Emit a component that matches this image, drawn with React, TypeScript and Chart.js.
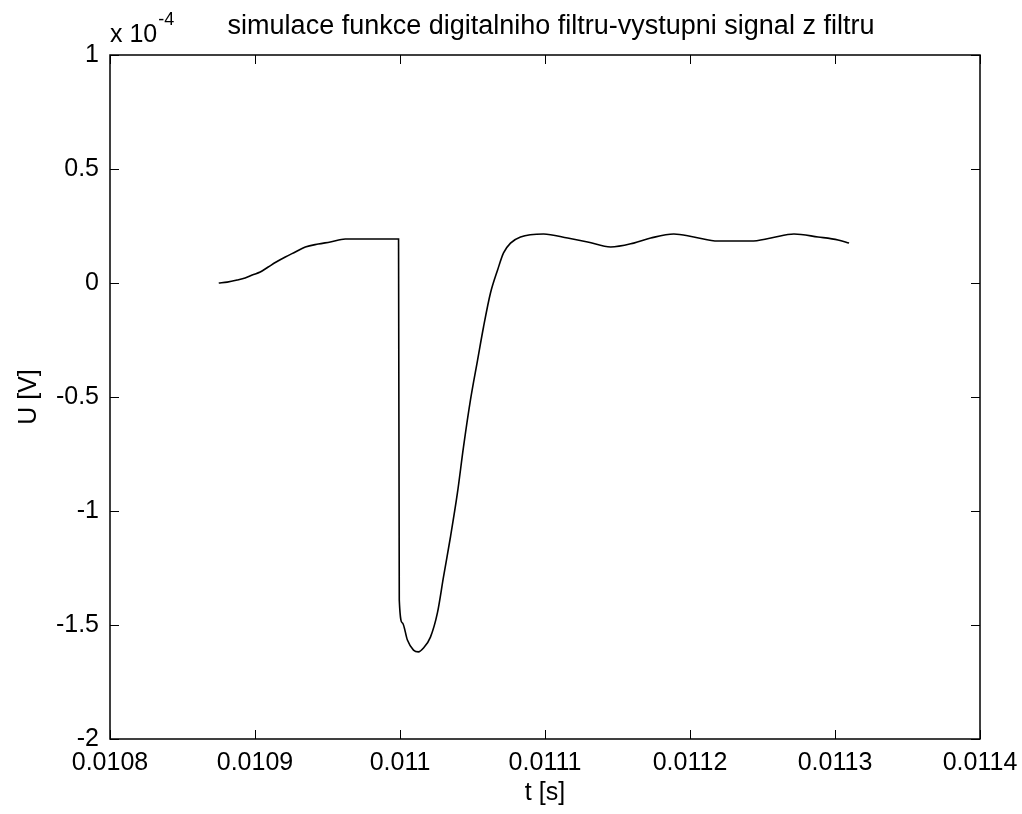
import React, { useEffect, useRef } from "react";
import { Chart, registerables } from "chart.js";

Chart.register(...registerables);

// time [s]
const T: number[] = [
  0.010875, 0.0108808, 0.0108877, 0.0108932, 0.0108981, 0.0109036, 0.0109091,
  0.0109146, 0.0109209, 0.0109278, 0.0109347, 0.0109436, 0.0109519, 0.0109623,
  0.010999, 0.0109995, 0.0110017, 0.0110051, 0.0110093, 0.0110127, 0.0110162,
  0.011021, 0.0110258, 0.01103, 0.0110348, 0.0110396, 0.0110438, 0.0110486,
  0.0110535, 0.0110576, 0.0110624, 0.0110673, 0.0110714, 0.0110762, 0.0110831,
  0.011099, 0.0111156, 0.0111294, 0.0111453, 0.0111612, 0.0111729, 0.0111888,
  0.0112026, 0.0112192, 0.011242, 0.0112558, 0.0112717, 0.0112883, 0.0113021,
  0.0113097,
];
// output voltage, in units of 1e-4 V
const U: number[] = [
  0.0, 0.004, 0.013, 0.022, 0.035, 0.048, 0.07,
  0.092, 0.114, 0.136, 0.158, 0.171, 0.18, 0.193,
  0.193, -1.39, -1.491, -1.566, -1.61, -1.618, -1.601,
  -1.553, -1.447, -1.289, -1.114, -0.921, -0.719, -0.513,
  -0.338, -0.193, -0.044, 0.057, 0.132, 0.175, 0.202,
  0.215, 0.197, 0.18, 0.158, 0.175, 0.197, 0.215,
  0.202, 0.184, 0.184, 0.197, 0.215, 0.202, 0.189,
  0.175,
];

const X_MIN = 0.0108;
const X_MAX = 0.0114;
const X_STEP = 0.0001;
const Y_MIN = -2;
const Y_MAX = 1;
const Y_STEP = 0.5;

const TITLE = "simulace funkce digitalniho filtru-vystupni signal z filtru";
const X_LABEL = "t [s]";
const Y_LABEL = "U [V]";
const EXP_BASE = "x 10";
const EXP_POWER = "-4";

const FONT = "'Liberation Sans', Arial, sans-serif";

const matlabBox = {
  id: "matlabBox",
  afterDraw(chart: any) {
    const { ctx, chartArea, scales } = chart;
    const { left, right, top, bottom } = chartArea;
    const xs = scales.x;
    const ys = scales.y;
    const tl = 9;
    ctx.save();
    ctx.strokeStyle = "#000";
    ctx.lineWidth = 1.5;
    ctx.strokeRect(left, top, right - left, bottom - top);
    ctx.lineWidth = 1;
    ctx.beginPath();
    xs.ticks.forEach((t: any) => {
      const px = Math.round(xs.getPixelForValue(t.value)) + 0.5;
      ctx.moveTo(px, bottom);
      ctx.lineTo(px, bottom - tl);
      ctx.moveTo(px, top);
      ctx.lineTo(px, top + tl);
    });
    ys.ticks.forEach((t: any) => {
      const py = Math.round(ys.getPixelForValue(t.value)) + 0.5;
      ctx.moveTo(left, py);
      ctx.lineTo(left + tl, py);
      ctx.moveTo(right, py);
      ctx.lineTo(right - tl, py);
    });
    ctx.stroke();

    ctx.fillStyle = "#000";
    ctx.font = `27px ${FONT}`;
    ctx.textAlign = "center";
    ctx.textBaseline = "alphabetic";
    ctx.fillText(TITLE, (left + right) / 2 + 6, top - 21);

    ctx.textAlign = "left";
    ctx.font = `25px ${FONT}`;
    ctx.fillText(EXP_BASE, left, top - 13);
    const w = ctx.measureText(EXP_BASE).width;
    ctx.font = `18px ${FONT}`;
    ctx.fillText(EXP_POWER, left + w + 1, top - 30);
    ctx.restore();
  },
};

export default function App() {
  const ref = useRef<HTMLCanvasElement | null>(null);
  useEffect(() => {
    document.body.style.margin = "0";
    const canvas = ref.current;
    if (!canvas) return;
    const chart = new Chart(canvas, {
      type: "line",
      data: {
        datasets: [
          {
            data: T.map((t, i) => ({ x: t, y: U[i] })),
            borderColor: "#000",
            borderWidth: 1.6,
            pointRadius: 0,
            cubicInterpolationMode: "monotone",
            fill: false,
          },
        ],
      },
      options: {
        animation: false,
        responsive: false,
        devicePixelRatio: 1,
        layout: { padding: { top: 55, right: 42, left: 0, bottom: 0 } },
        plugins: {
          legend: { display: false },
          title: { display: false },
          tooltip: { enabled: false },
        },
        scales: {
          x: {
            type: "linear",
            min: X_MIN,
            max: X_MAX,
            afterFit: (s: any) => {
              s.height = 75;
              s.paddingLeft = 0;
              s.paddingRight = 0;
            },
            grid: { display: false, drawTicks: false },
            border: { display: false },
            ticks: {
              stepSize: X_STEP,
              autoSkip: false,
              maxRotation: 0,
              padding: 9,
              color: "#000",
              font: { family: FONT, size: 25 },
              callback: (v: any) => String(Number(Number(v).toFixed(4))),
            },
            title: {
              display: true,
              text: X_LABEL,
              color: "#000",
              font: { family: FONT, size: 25 },
              padding: { top: 0, bottom: 6 },
            },
          },
          y: {
            type: "linear",
            min: Y_MIN,
            max: Y_MAX,
            afterFit: (s: any) => {
              s.width = 110;
            },
            grid: { display: false, drawTicks: false },
            border: { display: false },
            ticks: {
              stepSize: Y_STEP,
              autoSkip: false,
              padding: 11,
              color: "#000",
              font: { family: FONT, size: 25 },
              callback: (v: any) => String(Number(Number(v).toFixed(2))),
            },
            title: {
              display: true,
              text: Y_LABEL,
              color: "#000",
              font: { family: FONT, size: 25 },
              padding: { top: 14, bottom: 0 },
            },
          },
        },
      },
      plugins: [matlabBox],
    } as any);
    return () => chart.destroy();
  }, []);
  return (
    <div style={{ position: "absolute", left: 0, top: 0, width: 1022, height: 814, background: "#fff" }}>
      <canvas ref={ref} width={1022} height={814} style={{ display: "block" }} />
    </div>
  );
}
